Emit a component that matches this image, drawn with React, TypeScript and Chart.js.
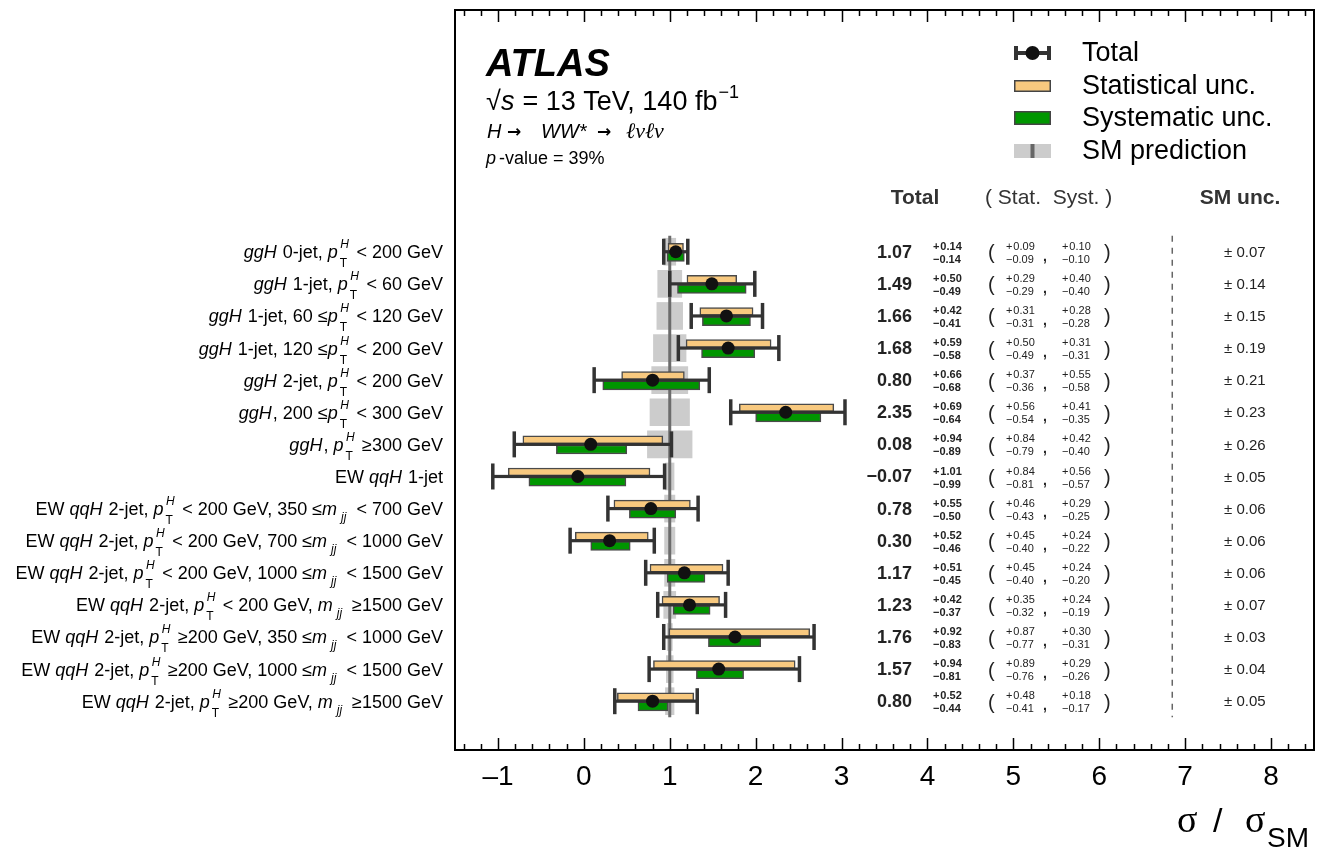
import React, { useEffect, useRef } from "react";
import { Chart, registerables } from "chart.js";

Chart.register(...registerables);

const FONT = '"Liberation Sans", Arial, Helvetica, sans-serif';
const SERIF = '"Liberation Serif", "DejaVu Serif", serif';

// ---------------- data ----------------
const categories = [
  "*ggH* 0-jet, *p*^{H}_{T} < 200 GeV",
  "*ggH* 1-jet, *p*^{H}_{T} < 60 GeV",
  "*ggH* 1-jet, 60 ≤*p*^{H}_{T} < 120 GeV",
  "*ggH* 1-jet, 120 ≤*p*^{H}_{T} < 200 GeV",
  "*ggH* 2-jet, *p*^{H}_{T} < 200 GeV",
  "*ggH*, 200 ≤*p*^{H}_{T} < 300 GeV",
  "*ggH*, *p*^{H}_{T} ≥300 GeV",
  "EW *qqH* 1-jet",
  "EW *qqH* 2-jet, *p*^{H}_{T} < 200 GeV, 350 ≤*m*_{jj} < 700 GeV",
  "EW *qqH* 2-jet, *p*^{H}_{T} < 200 GeV, 700 ≤*m*_{jj} < 1000 GeV",
  "EW *qqH* 2-jet, *p*^{H}_{T} < 200 GeV, 1000 ≤*m*_{jj} < 1500 GeV",
  "EW *qqH* 2-jet, *p*^{H}_{T} < 200 GeV, *m*_{jj} ≥1500 GeV",
  "EW *qqH* 2-jet, *p*^{H}_{T} ≥200 GeV, 350 ≤*m*_{jj} < 1000 GeV",
  "EW *qqH* 2-jet, *p*^{H}_{T} ≥200 GeV, 1000 ≤*m*_{jj} < 1500 GeV",
  "EW *qqH* 2-jet, *p*^{H}_{T} ≥200 GeV, *m*_{jj} ≥1500 GeV",
];
const central = [1.07, 1.49, 1.66, 1.68, 0.8, 2.35, 0.08, -0.07, 0.78, 0.3, 1.17, 1.23, 1.76, 1.57, 0.8];
const totUp = [0.14, 0.5, 0.42, 0.59, 0.66, 0.69, 0.94, 1.01, 0.55, 0.52, 0.51, 0.42, 0.92, 0.94, 0.52];
const totDn = [0.14, 0.49, 0.41, 0.58, 0.68, 0.64, 0.89, 0.99, 0.5, 0.46, 0.45, 0.37, 0.83, 0.81, 0.44];
const statUp = [0.09, 0.29, 0.31, 0.5, 0.37, 0.56, 0.84, 0.84, 0.46, 0.45, 0.45, 0.35, 0.87, 0.89, 0.48];
const statDn = [0.09, 0.29, 0.31, 0.49, 0.36, 0.54, 0.79, 0.81, 0.43, 0.4, 0.4, 0.32, 0.77, 0.76, 0.41];
const systUp = [0.1, 0.4, 0.28, 0.31, 0.55, 0.41, 0.42, 0.56, 0.29, 0.24, 0.24, 0.24, 0.3, 0.29, 0.18];
const systDn = [0.1, 0.4, 0.28, 0.31, 0.58, 0.35, 0.4, 0.57, 0.25, 0.22, 0.2, 0.19, 0.31, 0.26, 0.17];
const smUnc = [0.07, 0.14, 0.15, 0.19, 0.21, 0.23, 0.26, 0.05, 0.06, 0.06, 0.06, 0.07, 0.03, 0.04, 0.05];
const smValue = 1;

const xTickValues = [-1, 0, 1, 2, 3, 4, 5, 6, 7, 8];
const xMin = -1.5;
const xMax = 8.5;
const yTop = -7.53;
const yBottom = 15.52;
const dividerX = 6.85;

const legendItems = ["Total", "Statistical unc.", "Systematic unc.", "SM prediction"];

// ---------------- helpers ----------------
const fmt = (v: number) => (v < 0 ? "\u2212" : "") + Math.abs(v).toFixed(2);

type Seg = { kind: "n" | "i" | "stack" | "sub"; text: string; sup?: string; sub?: string };

function parseLabel(s: string): Seg[] {
  const segs: Seg[] = [];
  let buf = "";
  let i = 0;
  const flush = () => {
    if (buf) {
      segs.push({ kind: "n", text: buf });
      buf = "";
    }
  };
  while (i < s.length) {
    const ch = s[i];
    if (ch === "*") {
      flush();
      const j = s.indexOf("*", i + 1);
      segs.push({ kind: "i", text: s.slice(i + 1, j) });
      i = j + 1;
    } else if (ch === "^") {
      flush();
      const j = s.indexOf("}", i);
      const sup = s.slice(i + 2, j);
      let k = j + 1;
      let sub = "";
      if (s[k] === "_") {
        const m = s.indexOf("}", k);
        sub = s.slice(k + 2, m);
        k = m + 1;
      }
      segs.push({ kind: "stack", text: "", sup, sub });
      i = k;
    } else if (ch === "_") {
      flush();
      const j = s.indexOf("}", i);
      segs.push({ kind: "sub", text: s.slice(i + 2, j) });
      i = j + 1;
    } else {
      buf += ch;
      i++;
    }
  }
  flush();
  return segs;
}

function drawRich(ctx: CanvasRenderingContext2D, label: string, xRight: number, yMid: number) {
  const segs = parseLabel(label);
  const main = `18px ${FONT}`;
  const ital = `italic 18px ${FONT}`;
  const small = `12px ${FONT}`;
  const smallI = `italic 12px ${FONT}`;
  const widthOf = (g: Seg) => {
    if (g.kind === "n") {
      ctx.font = main;
      return ctx.measureText(g.text).width;
    }
    if (g.kind === "i") {
      ctx.font = ital;
      return ctx.measureText(g.text).width + 1;
    }
    if (g.kind === "stack") {
      ctx.font = smallI;
      const a = ctx.measureText(g.sup || "").width;
      ctx.font = small;
      const b = ctx.measureText(g.sub || "").width;
      return Math.max(a, b) + 4;
    }
    ctx.font = smallI;
    return ctx.measureText(g.text).width + 8;
  };
  const total = segs.reduce((s, g) => s + widthOf(g), 0);
  let x = xRight - total;
  const base = yMid + 6.5;
  ctx.textAlign = "left";
  ctx.textBaseline = "alphabetic";
  ctx.fillStyle = "#000";
  for (const g of segs) {
    const w = widthOf(g);
    if (g.kind === "n") {
      ctx.font = main;
      ctx.fillText(g.text, x, base);
    } else if (g.kind === "i") {
      ctx.font = ital;
      ctx.fillText(g.text, x, base);
    } else if (g.kind === "stack") {
      ctx.font = smallI;
      ctx.fillText(g.sup || "", x + 1.5, base - 10);
      ctx.font = small;
      ctx.fillText(g.sub || "", x + 1, base + 9);
    } else {
      ctx.font = smallI;
      ctx.fillText(g.text, x + 3, base + 6);
    }
    x += w;
  }
}

// ---------------- plugins ----------------
const errorBarPlugin = {
  id: "errorBars",
  beforeDatasetDraw(chart: any, args: any) {
    if (chart.data.datasets[args.index].label !== "Total") return;
    const { ctx } = chart;
    const x = chart.scales.x;
    const y = chart.scales.y;
    ctx.save();
    ctx.fillStyle = "#333";
    central.forEach((c, i) => {
      const yp = y.getPixelForValue(i);
      const xl = x.getPixelForValue(c - totDn[i]);
      const xr = x.getPixelForValue(c + totUp[i]);
      ctx.fillRect(xl, yp - 1.6, xr - xl, 3.2);
      ctx.fillRect(xl - 1.75, yp - 13, 3.5, 26);
      ctx.fillRect(xr - 1.75, yp - 13, 3.5, 26);
    });
    ctx.restore();
  },
};

const decorPlugin = {
  id: "decor",
  afterDraw(chart: any) {
    const { ctx, chartArea } = chart;
    const x = chart.scales.x;
    const y = chart.scales.y;
    const { left, right, top, bottom } = chartArea;
    ctx.save();

    // frame
    ctx.strokeStyle = "#000";
    ctx.lineWidth = 2;
    ctx.strokeRect(left, top, right - left, bottom - top);

    // ticks (major at integers, minor every 0.2)
    ctx.lineWidth = 1.5;
    ctx.beginPath();
    for (let k = Math.ceil(xMin * 5); k <= Math.floor(xMax * 5); k++) {
      const v = k / 5;
      const px = Math.round(x.getPixelForValue(v)) + 0.5;
      const len = k % 5 === 0 ? 12 : 6;
      ctx.moveTo(px, bottom);
      ctx.lineTo(px, bottom - len);
      ctx.moveTo(px, top);
      ctx.lineTo(px, top + len);
    }
    ctx.stroke();

    // y labels
    categories.forEach((lab, i) => drawRich(ctx, lab, 443, y.getPixelForValue(i)));

    // value columns
    ctx.fillStyle = "#222";
    central.forEach((c, i) => {
      const yp = y.getPixelForValue(i);
      ctx.textBaseline = "middle";
      ctx.textAlign = "right";
      ctx.font = `bold 18px ${FONT}`;
      ctx.fillText(fmt(c), 912, yp + 1);
      ctx.textAlign = "left";
      ctx.font = `bold 11px ${FONT}`;
      ctx.fillText("+" + "\u200A" + fmt(totUp[i]), 933, yp - 5);
      ctx.fillText(fmt(-totDn[i]), 933, yp + 8);
      ctx.font = `11px ${FONT}`;
      ctx.fillText("+" + "\u200A" + fmt(statUp[i]), 1006, yp - 5);
      ctx.fillText(fmt(-statDn[i]), 1006, yp + 8);
      ctx.fillText("+" + "\u200A" + fmt(systUp[i]), 1062, yp - 5);
      ctx.fillText(fmt(-systDn[i]), 1062, yp + 8);
      ctx.font = `bold 14px ${FONT}`;
      ctx.fillText(",", 1043, yp + 5);
      ctx.font = `20px ${FONT}`;
      ctx.fillText("(", 988, yp + 2);
      ctx.fillText(")", 1104, yp + 2);
      ctx.font = `15px ${FONT}`;
      ctx.fillText("\u00B1 " + smUnc[i].toFixed(2), 1224, yp + 1);
    });

    // headers
    ctx.fillStyle = "#333";
    ctx.textBaseline = "middle";
    ctx.textAlign = "center";
    ctx.font = `bold 21px ${FONT}`;
    ctx.fillText("Total", 915, 198);
    ctx.fillText("SM unc.", 1240, 198);
    ctx.textAlign = "left";
    ctx.font = `21px ${FONT}`;
    ctx.fillText("( Stat.  Syst. )", 985, 198);

    // ATLAS block
    ctx.fillStyle = "#000";
    ctx.textBaseline = "alphabetic";
    ctx.font = `italic bold 38px ${FONT}`;
    ctx.fillText("ATLAS", 486, 76);
    ctx.font = `27px ${FONT}`;
    ctx.fillText("\u221A", 486, 110);
    ctx.font = `italic 27px ${FONT}`;
    ctx.fillText("s", 501, 110);
    ctx.font = `27px ${FONT}`;
    ctx.fillText(" = 13 TeV, 140 fb", 515, 110);
    const wfb = ctx.measureText(" = 13 TeV, 140 fb").width;
    ctx.font = `18px ${FONT}`;
    ctx.fillText("\u22121", 515 + wfb + 1, 98);
    ctx.font = `italic 20px ${FONT}`;
    ctx.fillText("H", 487, 138);
    ctx.font = `bold 17px "DejaVu Sans", ${FONT}`;
    ctx.fillText("\u2192", 507, 137);
    ctx.font = `italic 20px ${FONT}`;
    ctx.fillText("WW*", 541, 138);
    ctx.font = `bold 17px "DejaVu Sans", ${FONT}`;
    ctx.fillText("\u2192", 597, 137);
    ctx.font = `italic 22px ${SERIF}`;
    ctx.fillText("\u2113\u03BD\u2113\u03BD", 626, 138);
    ctx.font = `italic 18px ${FONT}`;
    ctx.fillText("p", 486, 164);
    ctx.font = `18px ${FONT}`;
    ctx.fillText("-value = 39%", 499, 164);

    // legend
    const lx0 = 1014;
    const lx1 = 1051;
    const ltx = 1082;
    const ly = [53, 86, 118, 151];
    ctx.fillStyle = "#333";
    ctx.fillRect(lx0, ly[0] - 2, lx1 - lx0, 4);
    ctx.fillRect(lx0, ly[0] - 7, 4, 14);
    ctx.fillRect(lx1 - 4, ly[0] - 7, 4, 14);
    ctx.fillStyle = "#111";
    ctx.beginPath();
    ctx.arc((lx0 + lx1) / 2, ly[0], 7, 0, Math.PI * 2);
    ctx.fill();
    ctx.lineWidth = 1.5;
    ctx.strokeStyle = "#444";
    ctx.fillStyle = "#f8c97f";
    ctx.fillRect(lx0, ly[1] - 6, lx1 - lx0, 12);
    ctx.strokeRect(lx0 + 0.75, ly[1] - 5.25, lx1 - lx0 - 1.5, 10.5);
    ctx.fillStyle = "#009600";
    ctx.fillRect(lx0, ly[2] - 7, lx1 - lx0, 14);
    ctx.strokeRect(lx0 + 0.75, ly[2] - 6.25, lx1 - lx0 - 1.5, 12.5);
    ctx.fillStyle = "#cccccc";
    ctx.fillRect(lx0, ly[3] - 7, lx1 - lx0, 14);
    ctx.fillStyle = "#666";
    ctx.fillRect((lx0 + lx1) / 2 - 2, ly[3] - 7, 4, 14);
    ctx.fillStyle = "#000";
    ctx.font = `27px ${FONT}`;
    ctx.textBaseline = "middle";
    legendItems.forEach((t, i) => ctx.fillText(t, ltx, ly[i] + 1));

    // x-axis title
    ctx.textBaseline = "alphabetic";
    ctx.font = `38px ${SERIF}`;
    ctx.fillText("\u03C3", 1177, 832);
    ctx.font = `34px ${FONT}`;
    ctx.fillText("/", 1213, 832);
    ctx.font = `38px ${SERIF}`;
    ctx.fillText("\u03C3", 1245, 832);
    ctx.font = `28px ${FONT}`;
    ctx.fillText("SM", 1267, 847);

    ctx.restore();
  },
};

export default function App() {
  const ref = useRef<HTMLCanvasElement | null>(null);
  useEffect(() => {
    document.body.style.margin = "0";
    document.body.style.overflow = "hidden";
    const rows = categories.map((_, i) => i);
    const chart = new Chart(ref.current as HTMLCanvasElement, {
      type: "bar",
      data: {
        datasets: [
          {
            type: "scatter",
            label: "Total",
            data: rows.map((i) => ({ x: central[i], y: i })),
            pointRadius: 6.5,
            pointBackgroundColor: "#111",
            pointBorderWidth: 0,
            order: 0,
          } as any,
          {
            type: "bar",
            label: "Statistical unc.",
            data: rows.map((i) => ({ y: i - 0.14, x: [central[i] - statDn[i], central[i] + statUp[i]] })),
            backgroundColor: "#f8c97f",
            borderColor: "#4a4a4a",
            borderWidth: 1.5,
            borderSkipped: false,
            barThickness: 8,
            grouped: false,
            order: 2,
          } as any,
          {
            type: "bar",
            label: "Systematic unc.",
            data: rows.map((i) => ({ y: i + 0.16, x: [central[i] - systDn[i], central[i] + systUp[i]] })),
            backgroundColor: "#009600",
            borderColor: "#4a4a4a",
            borderWidth: 1.5,
            borderSkipped: false,
            barThickness: 9,
            grouped: false,
            order: 2,
          } as any,
          {
            type: "line",
            label: "SM line",
            data: [
              { x: smValue, y: -0.5 },
              { x: smValue, y: categories.length - 0.5 },
            ],
            borderColor: "#6c6c6c",
            borderWidth: 3,
            pointRadius: 0,
            order: 4,
          } as any,
          {
            type: "line",
            label: "divider",
            data: [
              { x: dividerX, y: -0.5 },
              { x: dividerX, y: categories.length - 0.5 },
            ],
            borderColor: "#666",
            borderWidth: 1.5,
            borderDash: [6, 6],
            pointRadius: 0,
            order: 4,
          } as any,
          {
            type: "bar",
            label: "SM prediction",
            data: rows.map((i) => ({ y: i, x: [smValue - smUnc[i], smValue + smUnc[i]] })),
            backgroundColor: "#cccccc",
            borderWidth: 0,
            barThickness: 27,
            grouped: false,
            order: 5,
          } as any,
        ],
      },
      options: {
        indexAxis: "y",
        animation: false,
        responsive: false,
        devicePixelRatio: 1,
        events: [],
        layout: { padding: { left: 455, right: 11, top: 10, bottom: 42 } },
        plugins: { legend: { display: false }, tooltip: { enabled: false } },
        scales: {
          x: {
            type: "linear",
            position: "bottom",
            min: xMin,
            max: xMax,
            stacked: false,
            offset: false,
            afterBuildTicks: (s: any) => {
              s.ticks = xTickValues.map((v) => ({ value: v }));
            },
            afterFit: (s: any) => {
              s.height = 60;
            },
            ticks: {
              font: { family: FONT, size: 28 },
              color: "#000",
              padding: 10,
              maxRotation: 0,
              autoSkip: false,
              callback: (v: any) => (Number(v) < 0 ? "\u2013" + Math.abs(Number(v)) : String(v)),
            },
            grid: { display: false, drawTicks: false },
            border: { display: false },
          },
          y: {
            type: "linear",
            min: yTop,
            max: yBottom,
            reverse: true,
            offset: false,
            display: false,
          },
        },
      } as any,
      plugins: [errorBarPlugin, decorPlugin],
    });
    return () => chart.destroy();
  }, []);
  return <canvas ref={ref} width={1325} height={852} style={{ display: "block" }} />;
}
